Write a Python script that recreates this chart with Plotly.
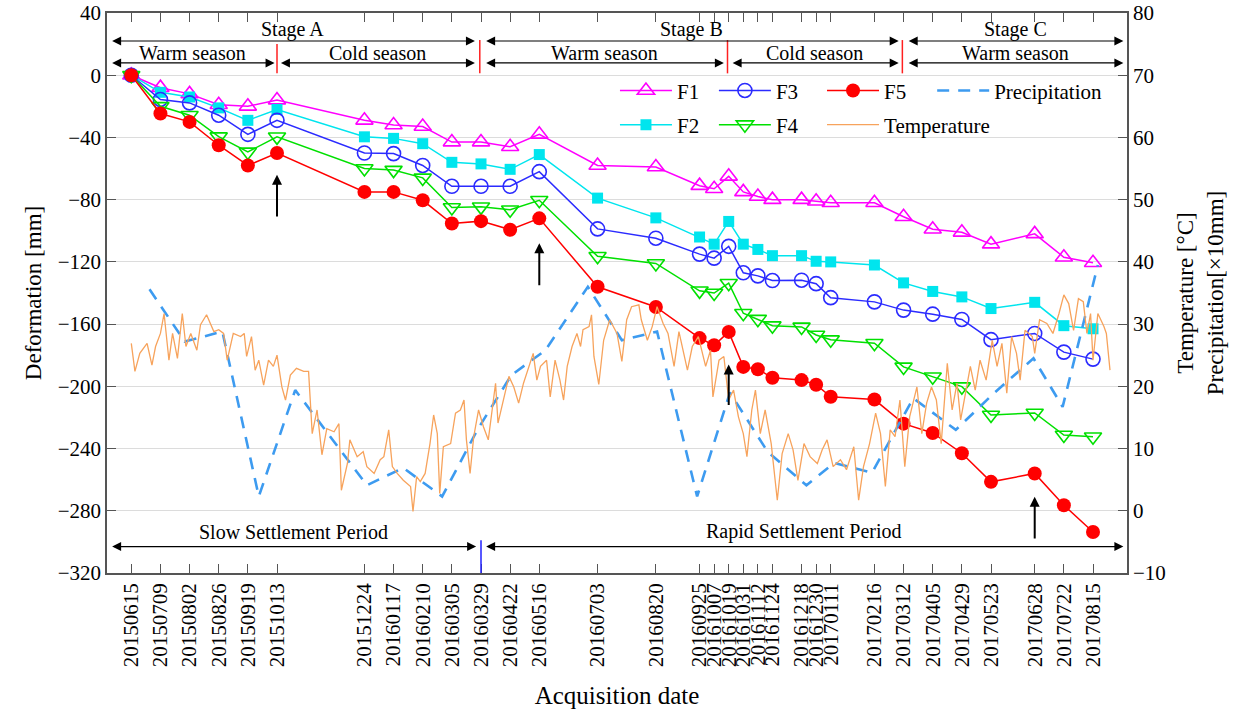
import pandas as pd
import plotly.graph_objects as go

# InSAR acquisition dates (YYYYMMDD) and cumulative deformation of five feature points (mm)
dates = ["20150615", "20150709", "20150802", "20150826", "20150919", "20151013",
         "20151224", "20160117", "20160210", "20160305", "20160329", "20160422",
         "20160516", "20160703", "20160820", "20160925", "20161007", "20161019",
         "20161031", "20161112", "20161124", "20161218", "20161230", "20170111",
         "20170216", "20170312", "20170405", "20170429", "20170523", "20170628",
         "20170722", "20170815"]

F1 = [0, -8, -12, -19, -20, -16, -29, -32, -33, -43, -43, -46, -38, -58, -59, -71,
      -73, -65, -75, -78, -80, -80, -81, -82, -82, -91, -99, -101, -108.6, -102, -117, -120.6]
F2 = [0, -11, -14, -21, -29, -22, -39.6, -40.6, -44, -56, -57, -60.5, -51, -79, -91.7, -104,
      -108.6, -94, -108.6, -112, -116, -116, -119.6, -120, -122, -133.5, -139, -142.5, -150, -146, -161, -163]
F3 = [0, -15.6, -17.8, -25.7, -38, -29, -50, -50.4, -58, -71.4, -71.4, -71.4, -62, -98.8, -104.8, -115,
      -117.6, -110, -127, -129, -132, -131.8, -134, -143, -145.7, -151, -153.6, -157, -170, -166, -178, -182.5]
F4 = [0, -20, -25.7, -39.5, -49.3, -39.6, -60, -61, -66, -85, -84.6, -86.5, -80.4, -116.4, -121, -138.6,
      -140, -133.7, -153, -156.8, -161, -161.8, -167, -170, -172.3, -187.5, -193.8, -200.2, -218.4, -217.1, -231.3, -232.4]
F5 = [0, -24.6, -30, -45, -58, -50, -75, -75, -80.4, -95.3, -93.8, -99.3, -92, -136, -149, -169,
      -173.6, -165, -187.5, -189, -194.5, -196, -199, -206.7, -208.5, -224, -230, -243, -261.4, -256, -276.4, -293.6]

# Monthly precipitation (x10 mm)
precip_dates = ["2015-06-30", "2015-07-29", "2015-08-29", "2015-09-28", "2015-10-28", "2015-11-27",
                "2015-12-26", "2016-01-25", "2016-02-26", "2016-03-26", "2016-04-23", "2016-05-21",
                "2016-06-25", "2016-07-23", "2016-08-21", "2016-09-23", "2016-10-20", "2016-11-20",
                "2016-12-22", "2017-01-14", "2017-02-14", "2017-03-20", "2017-04-24", "2017-05-26",
                "2017-06-27", "2017-07-21", "2017-08-19"]
precipitation = [35.6, 27.2, 28.8, 2.3, 19.4, 11.6, 4.1, 6.9, 2.3, 13.0, 21.8, 25.8, 36.0, 27.4,
                 28.8, 2.3, 19.0, 9.5, 4.1, 7.7, 6.1, 18.1, 13.0, 19.0, 24.5, 16.7, 39.5]

# Air temperature (deg C); readings keyed by day number counted from 2015-06-15
temp_start = "2015-06-15"
temp_day = [0, 3, 7, 13, 17, 20, 24, 27, 31, 34, 38, 42, 45, 49, 54, 57, 62, 68, 72, 76,
            79, 82, 84, 90, 93, 95, 99, 102, 105, 109, 113, 117, 120, 124, 127, 131, 136, 142, 146, 149,
            153, 157, 161, 167, 171, 173, 178, 180, 186, 191, 194, 200, 205, 208, 212, 215, 219, 224, 230, 232,
            235, 238, 242, 246, 249, 252, 254, 257, 263, 267, 271, 274, 276, 279, 282, 286, 290, 294, 297, 300,
            302, 307, 311, 315, 319, 323, 329, 331, 334, 337, 342, 345, 349, 353, 356, 359, 363, 367, 370, 372,
            377, 379, 381, 385, 389, 394, 400, 404, 408, 412, 418, 420, 425, 429, 433, 438, 442, 447, 451, 455,
            458, 462, 467, 473, 477, 479, 484, 488, 492, 496, 500, 504, 507, 511, 514, 518, 522, 527, 532, 536,
            541, 545, 549, 554, 559, 565, 569, 573, 578, 584, 589, 595, 599, 603, 608, 613, 617, 621, 625, 629,
            633, 637, 641, 647, 651, 655, 659, 663, 667, 672, 676, 680, 683, 687, 691, 695, 699, 704, 709, 713,
            717, 721, 725, 729, 732, 736, 742, 744, 748, 754, 759, 764, 768, 772, 776, 780, 784, 787, 790, 792,
            796, 801, 803, 806]
temp_val = [26.9, 22.4, 25.3, 26.9, 23.4, 26.4, 28.5, 31.7, 24.2, 28.5, 24.5, 31.7, 26.4, 28.5, 25.8, 29.9, 31.5, 28.8, 29.1, 28.5,
            24.2, 26.9, 28.5, 28.0, 28.5, 24.8, 28.0, 22.6, 24.2, 20.2, 24.2, 23.2, 25.0, 19.9, 17.8, 21.8, 22.9, 22.4, 22.4, 12.4,
            16.2, 9.0, 13.2, 12.7, 14.0, 3.3, 7.6, 11.4, 8.7, 9.5, 7.1, 6.0, 8.2, 8.7, 13.0, 7.1, 6.0, 4.9, 3.9, -0.1,
            5.5, 4.7, 6.0, 10.8, 15.4, 12.4, 2.8, 10.3, 10.8, 15.7, 16.2, 17.8, 11.4, 6.0, 11.9, 16.2, 13.5, 11.4, 16.2, 20.5,
            14.1, 18.3, 21.6, 19.9, 17.3, 20.5, 24.2, 25.3, 21.0, 23.2, 24.2, 18.3, 24.2, 21.0, 17.8, 23.2, 26.4, 28.5, 26.4, 29.1,
            29.6, 31.5, 24.8, 20.3, 27.4, 30.7, 28.5, 24.0, 30.7, 32.8, 33.1, 30.7, 27.4, 29.6, 32.8, 30.1, 28.5, 23.2, 28.8, 25.3,
            22.6, 26.4, 28.0, 23.2, 25.8, 18.3, 24.2, 24.8, 17.8, 19.4, 15.1, 12.4, 8.7, 16.2, 19.4, 12.4, 16.2, 10.8, 1.7, 9.2,
            12.4, 9.8, 4.9, 10.8, 8.7, 7.6, 9.8, 11.4, 7.1, 8.2, 6.6, 10.3, 1.7, 7.1, 10.8, 15.7, 12.4, 3.9, 13.0, 11.9,
            17.8, 7.1, 15.1, 19.9, 12.4, 17.3, 19.9, 17.8, 10.8, 23.7, 16.2, 20.5, 14.6, 18.9, 23.2, 19.4, 24.2, 21.0, 27.4, 23.2,
            26.9, 18.9, 28.0, 25.3, 21.0, 29.0, 28.0, 25.3, 30.7, 30.1, 28.5, 31.7, 34.7, 33.3, 29.0, 34.1, 33.6, 28.5, 31.7, 24.2,
            31.7, 29.6, 28.5, 22.6]

date_index = pd.to_datetime(dates, format="%Y%m%d")
temp_index = pd.Timestamp(temp_start) + pd.to_timedelta(temp_day, unit="D")

FONT = "Liberation Serif"

fig = go.Figure()

# Precipitation and temperature on the secondary axis (drawn beneath the deformation lines)
fig.add_trace(go.Scatter(x=pd.to_datetime(precip_dates), y=precipitation, name="Precipitation",
                         mode="lines", yaxis="y2", legend="legend4",
                         line=dict(color="#3D9BF0", width=2.6, dash="12px,9px")))
fig.add_trace(go.Scatter(x=temp_index, y=temp_val, name="Temperature", mode="lines",
                         yaxis="y2", legend="legend7",
                         line=dict(color="#F7A35C", width=1.3)))

series = [
    ("F1", F1, "#FF00FF", dict(symbol="triangle-up-open", size=15, line=dict(width=1.6)), "legend"),
    ("F2", F2, "#00E5EE", dict(symbol="square", size=11), "legend5"),
    ("F3", F3, "#2B2BFF", dict(symbol="circle-open", size=14, line=dict(width=1.6)), "legend2"),
    ("F4", F4, "#00E000", dict(symbol="triangle-down-open", size=15, line=dict(width=1.6)), "legend6"),
    ("F5", F5, "#FF0000", dict(symbol="circle", size=14), "legend3"),
]
for name, vals, color, marker, leg in series:
    fig.add_trace(go.Scatter(x=date_index, y=vals, name=name, mode="lines+markers",
                             legend=leg, line=dict(color=color, width=1.5),
                             marker=dict(color=color, **marker)))

# Stage / season span arrows along the top, settlement periods along the bottom
def span(x0, x1, y):
    fig.add_annotation(x=x1, y=y, ax=x0, ay=y, xref="x", yref="y", axref="x", ayref="y",
                       text="", showarrow=True, arrowhead=2, startarrowhead=2,
                       arrowside="end+start", arrowsize=1.5, startarrowsize=1.5,
                       arrowwidth=1.2, arrowcolor="black")

def label(x0, x1, y, text):
    t0, t1 = pd.Timestamp(x0), pd.Timestamp(x1)
    fig.add_annotation(x=t0 + (t1 - t0) / 2, y=y, xref="x", yref="y", text=text,
                       showarrow=False, font=dict(family=FONT, size=20, color="black"))

stages = [("2015-05-29", "2016-03-24", "Stage A"),
          ("2016-04-01", "2017-03-08", "Stage B"),
          ("2017-03-15", "2017-09-09", "Stage C")]
seasons = [("2015-05-29", "2015-10-11", "Warm season"),
           ("2015-10-15", "2016-03-24", "Cold season"),
           ("2016-04-01", "2016-10-15", "Warm season"),
           ("2016-10-21", "2017-03-08", "Cold season"),
           ("2017-03-15", "2017-09-09", "Warm season")]
periods = [("2015-05-29", "2016-03-25", "Slow Settlement Period"),
           ("2016-04-01", "2017-09-09", "Rapid Settlement Period")]

for a, b, t in stages:
    span(a, b, 22)
    label(a, b, 29.5, t)
for a, b, t in seasons:
    span(a, b, 7.9)
    label(a, b, 14.6, t)
for a, b, t in periods:
    span(a, b, -303)
    label(a, b, -293.5, t)

# Red dividers between seasons / stages
for d, top in [("2015-10-13", 20), ("2016-03-28", 22.6), ("2016-10-18", 22.6), ("2017-03-11", 22.6)]:
    fig.add_shape(type="line", xref="x", yref="y", x0=d, x1=d, y0=top, y1=1.2,
                  line=dict(color="#FF2020", width=1.5))
# Blue divider between settlement periods
fig.add_shape(type="line", xref="x", yref="y", x0="2016-03-29", x1="2016-03-29", y0=-299, y1=-320,
              line=dict(color="#2020FF", width=1.5))

# Upward arrows marking rapid settlement events
for d, tail, tip in [("2015-10-13", -91.8, -64), ("2016-05-16", -136, -108),
                     ("2016-10-19", -213, -186), ("2017-06-28", -298.8, -271)]:
    fig.add_annotation(x=d, y=tip, ax=d, ay=tail, xref="x", yref="y", axref="x", ayref="y",
                       text="", showarrow=True, arrowhead=2, arrowsize=1.0, arrowwidth=2,
                       arrowcolor="black")

line_style = dict(showline=True, linecolor="#555555", linewidth=1.6,
                  ticks="inside", ticklen=9, tickcolor="#555555", tickwidth=1.4,
                  automargin=False, zeroline=False)

# One single-entry legend per key so the key forms a two-row grid
legend_slots = {"legend": (0.498, 0.861), "legend2": (0.595, 0.861), "legend3": (0.701, 0.861),
                "legend4": (0.809, 0.861), "legend5": (0.498, 0.800), "legend6": (0.595, 0.800),
                "legend7": (0.701, 0.800)}
legends = {k: dict(x=x, y=y, xanchor="left", yanchor="middle", orientation="h",
                   bgcolor="rgba(0,0,0,0)", itemwidth=52, font=dict(family=FONT, size=21))
           for k, (x, y) in legend_slots.items()}

fig.update_layout(
    width=1239, height=714,
    margin=dict(l=107, r=112, t=13, b=141),
    paper_bgcolor="white", plot_bgcolor="white",
    font=dict(family=FONT, color="black"),
    xaxis=dict(type="date", range=["2015-05-26", "2017-09-12"],
               tickvals=date_index, ticktext=dates, tickangle=-90,
               tickfont=dict(family=FONT, size=21), mirror="ticks",
               title=dict(text="Acquisition date", font=dict(family=FONT, size=25), standoff=20),
               showgrid=False, **line_style),
    yaxis=dict(range=[-320, 40], dtick=40, tick0=0, mirror=False,
               tickfont=dict(family=FONT, size=21),
               title=dict(text="Deformation [mm]", font=dict(family=FONT, size=23), standoff=10),
               showgrid=True, gridcolor="#DCDCDC", gridwidth=1.3, **line_style),
    yaxis2=dict(range=[-10, 80], dtick=10, tick0=0, overlaying="y", side="right",
                tickfont=dict(family=FONT, size=21),
                title=dict(text="Temperature [°C]<br>Precipitation[×10mm]",
                           font=dict(family=FONT, size=23), standoff=12),
                showgrid=False, **line_style),
    showlegend=True,
    **legends,
)

fig.write_html("out.html")
